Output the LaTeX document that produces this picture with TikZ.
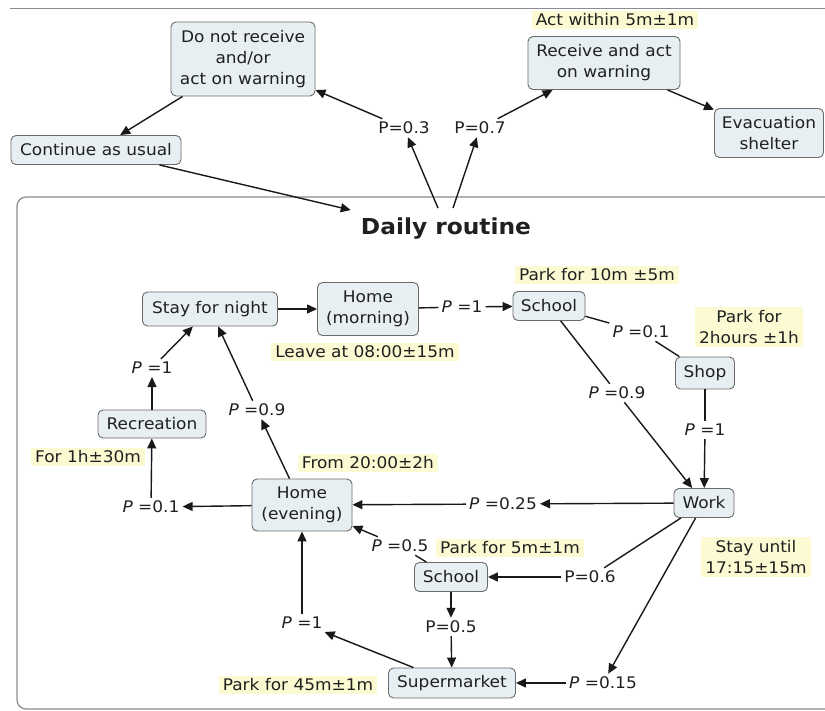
\documentclass[tikz,border=0pt]{standalone}
\usepackage{fontspec}
\setmainfont{DejaVu Sans}[FakeStretch=1.06]
\usetikzlibrary{arrows.meta}
\definecolor{boxfill}{HTML}{E8EFF2}
\definecolor{boxline}{HTML}{6A6A6A}
\definecolor{notefill}{HTML}{FCFAD2}
\definecolor{txt}{HTML}{202020}
\definecolor{framecol}{HTML}{8C8C8C}
\begin{document}
\begin{tikzpicture}[x=1pt,y=-1pt,
  every node/.style={font=\fontsize{16}{21}\selectfont, text=txt},
  cbox/.style={draw=boxline, fill=boxfill, rounded corners=5pt, line width=0.9pt, align=center, inner sep=0pt},
  note/.style={fill=notefill, align=center, inner xsep=4pt, inner ysep=3pt},
  lbl/.style={inner sep=3pt},
  arr/.style={-{Triangle[length=10pt,width=9pt]}, line width=1.4pt, draw=black!90},
  ln/.style={line width=1.4pt, draw=black!90},
  frm/.style={draw=framecol, line width=1.2pt}
]
\useasboundingbox (0,0) rectangle (825,711);
\fill[white] (0,0) rectangle (825,711);
% frames
\draw[frm] (10,8.5) -- (825,8.5);
\draw[frm, rounded corners=9pt] (17,197) rectangle (850,709);

% top part
\node[note] (nact) at (615,20) {Act within 5m±1m};
\node[cbox, minimum width=152pt, minimum height=53pt] (raw) at (604,63) {Receive and act\\on warning};
\node[cbox, minimum width=144pt, minimum height=74pt] (dnr) at (243,59) {Do not receive\\and/or\\act on warning};
\node[cbox, minimum width=170pt, minimum height=29pt] (cont) at (96,150) {Continue as usual};
\node[cbox, minimum width=109pt, minimum height=49pt] (evac) at (769,133) {Evacuation\\shelter};
\node[lbl] (p03) at (404,128) {P=0.3};
\node[lbl] (p07) at (480,128) {P=0.7};
\node[font=\bfseries\fontsize{22}{26}\selectfont, inner sep=2pt] (rout) at (446,229) {Daily routine};

% lower part: notes
\node[note] (nleave) at (365,352) {Leave at 08:00±15m};
\node[note] (npark10) at (597,275) {Park for 10m ±5m};
\node[note] (npark2) at (749,327) {Park for\\2hours ±1h};
\node[note] (nstay) at (756,557) {Stay until\\17:15±15m};
\node[note] (nfrom) at (368,463) {From 20:00±2h};
\node[note] (nfor) at (88,457) {For 1h±30m};
\node[note] (npark5) at (510,548) {Park for 5m±1m};
\node[note] (npark45) at (298,685) {Park for 45m±1m};

% lower part: concepts
\node[cbox, minimum width=135pt, minimum height=34pt] (stay) at (210,309) {Stay for night};
\node[cbox, minimum width=101pt, minimum height=53pt] (hm) at (368,309) {Home\\(morning)};
\node[cbox, minimum width=72pt, minimum height=29pt] (sch1) at (549,306) {School};
\node[cbox, minimum width=59pt, minimum height=32pt] (shop) at (705,373) {Shop};
\node[cbox, minimum width=60pt, minimum height=29pt] (work) at (704,503) {Work};
\node[cbox, minimum width=100pt, minimum height=52pt] (hev) at (302,505) {Home\\(evening)};
\node[cbox, minimum width=108pt, minimum height=28pt] (rec) at (152,424) {Recreation};
\node[cbox, minimum width=73pt, minimum height=29pt] (sch2) at (451,577) {School};
\node[cbox, minimum width=127pt, minimum height=30pt] (super) at (452,683) {Supermarket};

% lower part: probability labels
\node[lbl] (p1a) at (462,307) {\textit{P} =1};
\node[lbl] (p01) at (641,332) {\textit{P} =0.1};
\node[lbl] (p09) at (617,393) {\textit{P} =0.9};
\node[lbl] (p1b) at (705,430) {\textit{P} =1};
\node[lbl] (p025) at (503,504) {\textit{P} =0.25};
\node[lbl] (p06) at (590,577) {P=0.6};
\node[lbl] (p015) at (603,683) {\textit{P} =0.15};
\node[lbl] (p05a) at (400,546) {\textit{P} =0.5};
\node[lbl] (p05b) at (451,627) {P=0.5};
\node[lbl] (p1c) at (302,623) {\textit{P} =1};
\node[lbl] (p09b) at (257,410) {\textit{P} =0.9};
\node[lbl] (p01b) at (151,507) {\textit{P} =0.1};
\node[lbl] (p1d) at (152,368) {\textit{P} =1};

% connectors top
\draw[arr] (dnr) -- (cont);
\draw[arr] (cont) -- ([xshift=-8pt,yshift=6pt]rout.north west);
\draw[arr] ([xshift=-8pt,yshift=8pt]rout.north) -- (p03);
\draw[arr] (p03) -- (dnr);
\draw[arr] ([xshift=7pt,yshift=8pt]rout.north) -- (p07);
\draw[arr] (p07) -- (raw);
\draw[arr] (raw) -- (evac);

% connectors lower
\draw[arr] (stay) -- (hm);
\draw[ln] (hm) -- (p1a);
\draw[arr] (p1a) -- (sch1);
\draw[ln] (sch1) -- (p01);
\draw[ln] (p01) -- (shop);
\draw[ln] (sch1) -- (p09);
\draw[arr] (p09) -- (work);
\draw[ln] (shop) -- (p1b);
\draw[arr] (p1b) -- (work);
\draw[arr] (work) -- (p025);
\draw[arr] (p025) -- (hev);
\draw[ln] (work) -- (p06);
\draw[arr] (p06) -- (sch2);
\draw[arr] (work) -- (p015);
\draw[arr] (p015) -- (super);
\draw[ln] (sch2) -- (p05a);
\draw[arr] (p05a) -- (hev);
\draw[arr] (sch2) -- (p05b);
\draw[arr] (p05b) -- (super);
\draw[arr] (super) -- (p1c);
\draw[arr] (p1c) -- (hev);
\draw[arr] (hev) -- (p09b);
\draw[arr] (p09b) -- (stay);
\draw[arr] (hev) -- (p01b);
\draw[arr] (p01b) -- (rec);
\draw[arr] (rec) -- (p1d);
\draw[arr] (p1d) -- (stay);
\end{tikzpicture}
\end{document}
